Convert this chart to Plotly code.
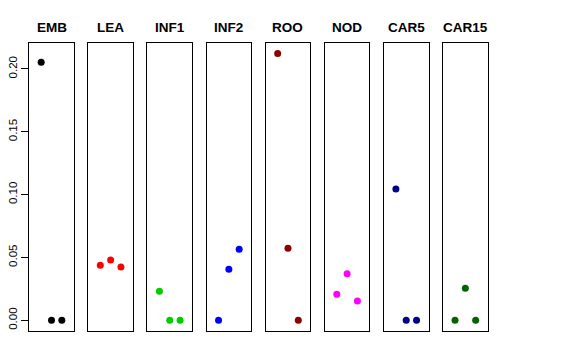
import plotly.graph_objects as go

categories = ["EMB", "LEA", "INF1", "INF2", "ROO", "NOD", "CAR5", "CAR15"]
x_pos = [1, 2, 3]
values = {
    "EMB":   [0.2053, 0.0, 0.0],
    "LEA":   [0.0438, 0.0480, 0.0425],
    "INF1":  [0.0231, 0.0, 0.0],
    "INF2":  [0.0, 0.0406, 0.0566],
    "ROO":   [0.2124, 0.0574, 0.0],
    "NOD":   [0.0207, 0.0371, 0.0154],
    "CAR5":  [0.1044, 0.0, 0.0],
    "CAR15": [0.0, 0.0255, 0.0],
}
colors = ["#000000", "#FF0000", "#00CD00", "#0000FF", "#8B0000", "#FF00FF", "#00008B", "#006400"]
y_ticks = [0.0, 0.05, 0.10, 0.15, 0.20]
y_tick_labels = ["0.00", "0.05", "0.10", "0.15", "0.20"]

W, H = 576, 360
fig = go.Figure()
left0, step, pw = 29.2, 59.12, 44.6
ytop, ybot = 42.7, 331.0
ydom = [(H - ybot) / H, (H - ytop) / H]
all_vals = [v for c in categories for v in values[c]]
ymin, ymax = min(all_vals), max(all_vals)
pad = (ymax - ymin) * 0.04
yr = [ymin - pad, ymax + pad]

for i, (cat, col) in enumerate(zip(categories, colors)):
    n = "" if i == 0 else str(i + 1)
    fig.add_trace(go.Scatter(x=x_pos, y=values[cat], mode="markers",
                             marker=dict(color=col, size=7),
                             xaxis="x" + n, yaxis="y" + n, showlegend=False,
                             hoverinfo="skip", cliponaxis=False))
    l = left0 + step * i
    fig.layout["xaxis" + n] = dict(domain=[l / W, (l + pw) / W], range=[-0.16, 4.16],
                                   showgrid=False, zeroline=False, showticklabels=False,
                                   ticks="", showline=True, mirror=True, automargin=False,
                                   linecolor="black", linewidth=1,
                                   anchor="y" + n)
    yax = dict(domain=ydom, range=yr, showgrid=False, zeroline=False, automargin=False,
               showline=True, mirror=True, linecolor="black", linewidth=1,
               anchor="x" + n)
    if i == 0:
        yax.update(tickmode="array", tickvals=y_ticks, ticktext=y_tick_labels,
                   ticks="outside", ticklen=7, tickcolor="black", tickwidth=1,
                   tickangle=-90, tickfont=dict(family="Liberation Sans, Arial", size=11.5, color="black"))
    else:
        yax.update(showticklabels=False, ticks="")
    fig.layout["yaxis" + n] = yax
    fig.add_annotation(text="<b>" + cat + "</b>", x=(l + pw / 2) / W, y=(H - 28) / H,
                       xref="paper", yref="paper", showarrow=False,
                       xanchor="center", yanchor="middle",
                       font=dict(family="Liberation Sans, Arial", size=13.5, color="black"))

fig.update_layout(width=W, height=H, margin=dict(l=0, r=0, t=0, b=0, autoexpand=False),
                  plot_bgcolor="white", paper_bgcolor="white")
fig.write_html("out.html", config={"displayModeBar": False, "staticPlot": True},
               post_script="document.body.style.margin='0';document.body.style.overflow='hidden';")
